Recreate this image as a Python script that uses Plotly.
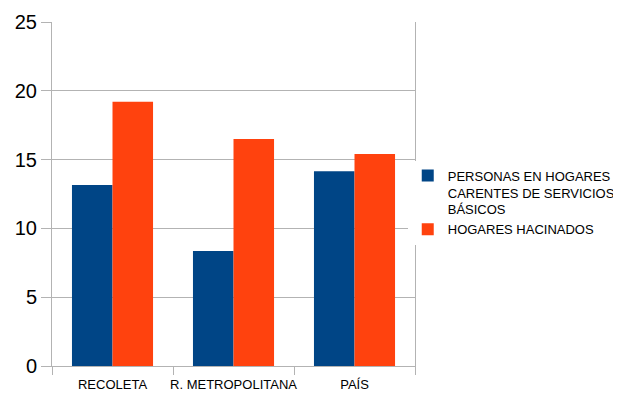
import plotly.graph_objects as go

categories = ["RECOLETA", "R. METROPOLITANA", "PAÍS"]
servicios = [13.15, 8.35, 14.15]
hacinados = [19.2, 16.5, 15.4]

fig = go.Figure()
fig.add_trace(go.Bar(x=categories, y=servicios,
                     name="PERSONAS EN HOGARES<br>CARENTES DE SERVICIOS<br>BÁSICOS",
                     marker=dict(color="#004586", line=dict(width=0))))
fig.add_trace(go.Bar(x=categories, y=hacinados,
                     name="HOGARES HACINADOS",
                     marker=dict(color="#ff420e", line=dict(width=0))))

# page body adds an 8px offset, so margins are shifted to compensate
fig.update_layout(
    width=621, height=394,
    margin=dict(l=44, r=214, t=14, b=36, autoexpand=False),
    barmode="group", bargap=0.33, bargroupgap=0,
    plot_bgcolor="white", paper_bgcolor="white",
    font=dict(family="Liberation Sans, Arial, sans-serif", color="black"),
    legend=dict(x=0.98, xanchor="left", y=0.475, yanchor="middle",
                font=dict(size=13), tracegroupgap=2, itemwidth=30,
                valign="top"),
)
fig.update_xaxes(showline=True, linecolor="#b3b3b3", linewidth=1,
                 ticks="outside", tickson="boundaries", ticklen=8,
                 tickcolor="#b3b3b3", showgrid=False, tickangle=0,
                 ticklabelstandoff=6,
                 automargin=False, tickfont=dict(size=13))
fig.update_yaxes(range=[0, 25], dtick=5, showline=True, mirror=True,
                 linecolor="#b3b3b3", linewidth=1, automargin=False,
                 gridcolor="#b3b3b3", ticks="outside", ticklen=10,
                 tickcolor="#b3b3b3", tickfont=dict(size=20), zeroline=False)

fig.write_html("out.html")
